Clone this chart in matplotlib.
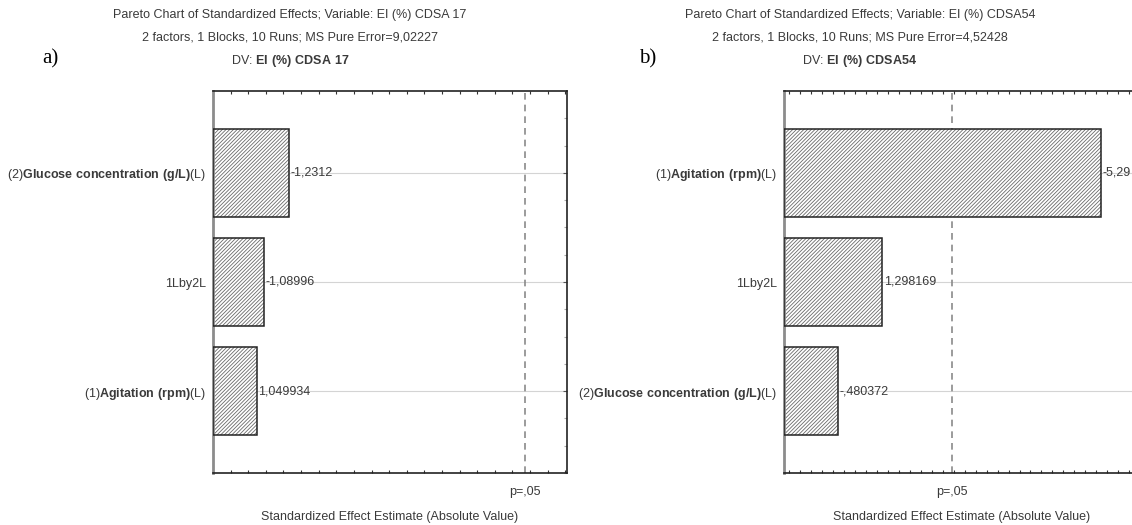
import matplotlib
matplotlib.use("Agg")
import matplotlib.pyplot as plt
import numpy as np

plt.rcParams['font.family'] = ['Liberation Sans', 'DejaVu Sans']
plt.rcParams['mathtext.fontset'] = 'custom'
plt.rcParams['mathtext.rm'] = 'Liberation Sans'
plt.rcParams['mathtext.bf'] = 'Liberation Sans:bold'
plt.rcParams['hatch.linewidth'] = 0.6

# ---------------- data ----------------
titles_a = ["Pareto Chart of Standardized Effects; Variable: EI (%) CDSA 17",
            "2 factors, 1 Blocks, 10 Runs; MS Pure Error=9,02227",
            r"DV: $\mathbf{EI\ (\%)\ CDSA\ 17}$"]
titles_b = ["Pareto Chart of Standardized Effects; Variable: EI (%) CDSA54",
            "2 factors, 1 Blocks, 10 Runs; MS Pure Error=4,52428",
            r"DV: $\mathbf{EI\ (\%)\ CDSA54}$"]
labels_a = [r"(2)$\mathbf{Glucose\ concentration\ (g/L)}$(L)",
            "1Lby2L",
            r"(1)$\mathbf{Agitation\ (rpm)}$(L)"]
effects_a = [-1.2312, -1.08996, 1.049934]
labels_b = [r"(1)$\mathbf{Agitation\ (rpm)}$(L)",
            "1Lby2L",
            r"(2)$\mathbf{Glucose\ concentration\ (g/L)}$(L)"]
effects_b = [-5.29, 1.298169, -0.480372]
t_crit = 2.571
xlim_a = (0.80, 2.81)
xlim_b = (-0.50, 6.00)
xlabel = "Standardized Effect Estimate (Absolute Value)"
plabel = "p=,05"

W, H = 1132, 525
fig = plt.figure(figsize=(W / 100, H / 100), dpi=100)
TXT = '#3a3a3a'
FS = 9.0


def fmt(v):
    s = ('%.7g' % v).replace('.', ',')
    s = s.replace('-0,', '-,')
    if s.startswith('0,'):
        s = s[1:]
    return s


def px_axes(x0, y0, x1, y1):
    return fig.add_axes([x0 / W, 1 - y1 / H, (x1 - x0) / W, (y1 - y0) / H])


def panel(ax, labels, effects, xlim, minor_step):
    y = np.arange(len(labels))
    vals = np.abs(effects)
    ax.set_xlim(*xlim)
    ax.set_ylim(len(labels) - 0.25, -0.75)
    for yi in y:
        ax.axhline(yi, color='#d4d4d4', lw=0.8, zorder=0)
    left = xlim[0]
    ax.barh(y, vals - left, left=left, height=0.8, color='white',
            edgecolor='#6a6a6a', hatch='/' * 9, linewidth=0, zorder=2)
    ax.barh(y, vals - left, left=left, height=0.8, fill=False,
            edgecolor='#222222', linewidth=1.1, zorder=3)
    for yi, v, e in zip(y, vals, effects):
        ax.text(v + 0.004 * (xlim[1] - xlim[0]), yi, fmt(e), va='center',
                ha='left', fontsize=FS, color=TXT, zorder=4)
    ax.axvline(t_crit, color='#8a8a8a', lw=1.2, ls=(0, (4, 3)), zorder=1)
    ax.set_yticks(y)
    ax.set_yticklabels(labels, fontsize=FS, color=TXT)
    ax.tick_params(axis='y', which='both', left=False, right=True,
                   direction='in', length=3, width=0.8, color='#555555', pad=5)
    ax.set_yticks(np.arange(-0.5, len(labels), 0.25), minor=True)
    ax.tick_params(axis='y', which='minor', right=True, left=False,
                   direction='in', length=2, color='#aaaaaa')
    ax.set_xticks([])
    ax.set_xticks(np.arange(np.ceil(xlim[0] / minor_step) * minor_step,
                            xlim[1], minor_step), minor=True)
    ax.tick_params(axis='x', which='minor', top=True, bottom=True,
                   direction='in', length=2.5, width=0.8, color='#333333',
                   labelbottom=False)
    for s in ['top', 'bottom', 'right']:
        ax.spines[s].set_color('#222222')
        ax.spines[s].set_linewidth(1.2)
    ax.spines['left'].set_color('#8c8c8c')
    ax.spines['left'].set_linewidth(2.0)


axa = px_axes(213, 91, 567, 473)
panel(axa, labels_a, effects_a, xlim_a, 0.1)
axb = px_axes(784, 91, 1140, 473)
panel(axb, labels_b, effects_b, xlim_b, 0.2)


def ftext(xp, yp, s, **kw):
    fig.text(xp / W, 1 - yp / H, s, **kw)


for i, (ta, tb) in enumerate(zip(titles_a, titles_b)):
    yy = 15 + i * 23
    ftext(290, yy, ta, ha='center', va='center', fontsize=FS, color=TXT)
    ftext(860, yy, tb, ha='center', va='center', fontsize=FS, color=TXT)

ftext(50, 59, "a)", ha='center', va='center', fontsize=15,
      family=['Liberation Serif'], color='black')
ftext(648, 59, "b)", ha='center', va='center', fontsize=15,
      family=['Liberation Serif'], color='black')

for ax in [axa, axb]:
    x0 = ax.transAxes.transform((0, 0))[0]
    x1 = ax.transAxes.transform((1, 0))[0]
    ftext((x0 + x1) / 2, 517, xlabel, ha='center', va='center',
          fontsize=FS, color=TXT)
    xp = ax.transData.transform((t_crit, 0))[0]
    ftext(xp, 492, plabel, ha='center', va='center', fontsize=FS, color=TXT)

fig.savefig("out.png", dpi=100)
